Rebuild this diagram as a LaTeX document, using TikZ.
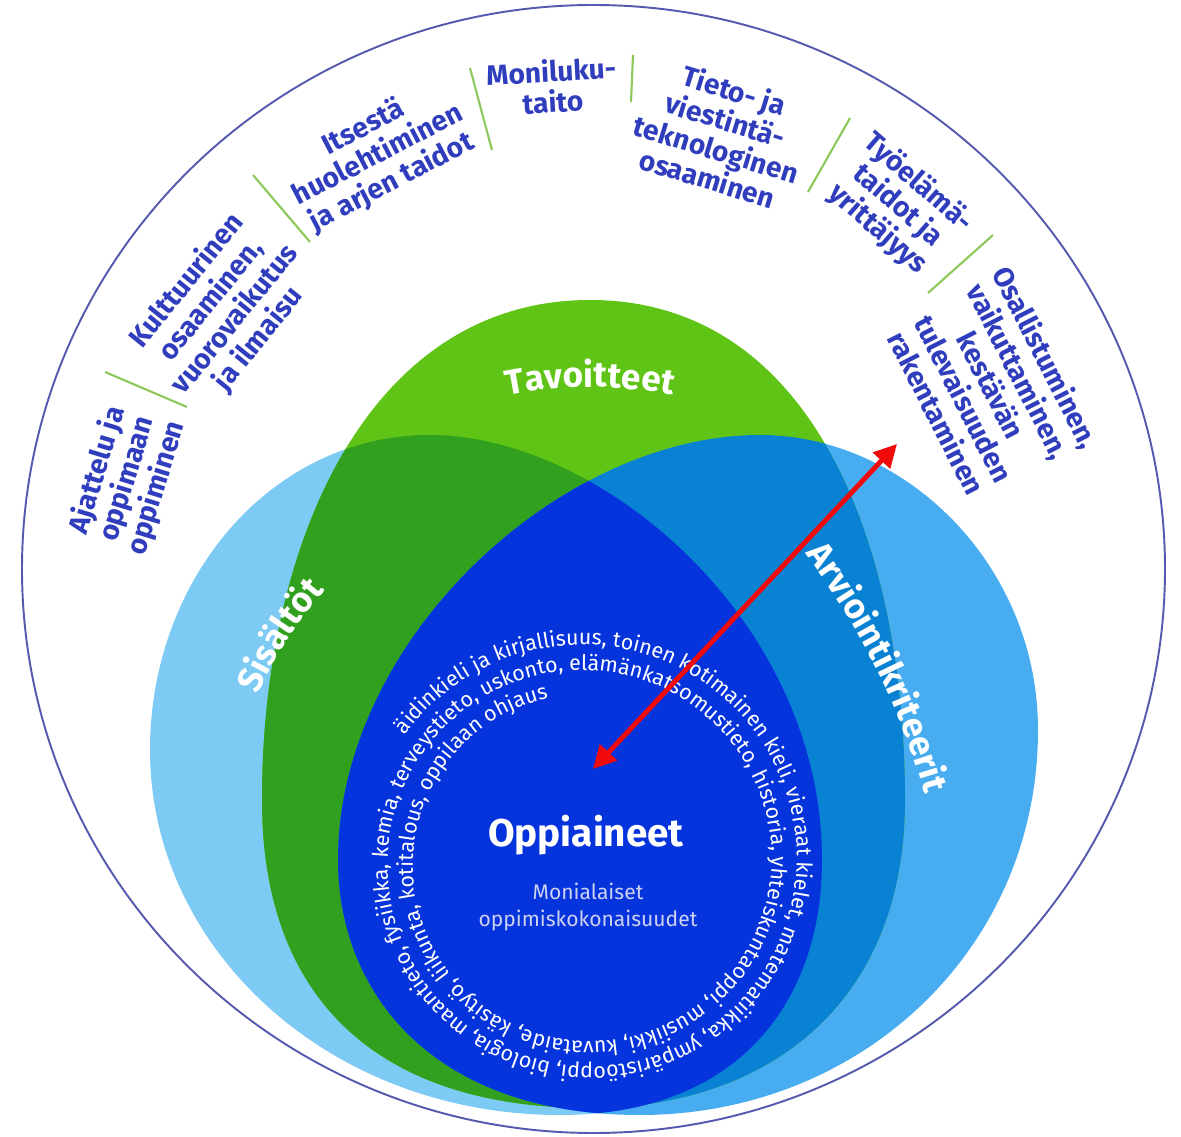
\documentclass[tikz,border=0pt]{standalone}
\usepackage{fontspec}
\setmainfont{Fira Sans}
\usepackage{tikz}
\usetikzlibrary{arrows.meta}
\usetikzlibrary{decorations.text}

\definecolor{ringblue}{RGB}{48,62,190}
\definecolor{ringline}{RGB}{85,90,175}
\definecolor{sepgreen}{RGB}{140,200,90}
\definecolor{sisblue}{RGB}{125,202,245}
\definecolor{arvblue}{RGB}{72,172,240}
\definecolor{tavgreen}{RGB}{95,196,22}
\definecolor{sisgreen}{RGB}{48,160,30}
\definecolor{tavblue}{RGB}{10,130,212}
\definecolor{oppblue}{RGB}{6,52,220}
\definecolor{monigray}{RGB}{205,210,240}
\definecolor{arrred}{RGB}{240,10,10}

\newcommand{\titlefont}{\fontsize{20}{24}\selectfont\bfseries}
\newcommand{\subjfont}{\fontsize{12.2}{14}\selectfont}

% petal outlines (Sisallot, Arviointikriteerit, Tavoitteet)
\newcommand{\petalSis}{(430,702) .. controls (600,702) and (822,517) .. (822,277) .. controls (822,137) and (740,22) .. (560,22) .. controls (330,22) and (150,187) .. (150,387) .. controls (150,557) and (270,702) .. (430,702) -- cycle}
\newcommand{\petalArv}{(760,702) .. controls (905,702) and (1038,572) .. (1038,407) .. controls (1038,187) and (860,22) .. (640,22) .. controls (430,22) and (338,147) .. (338,277) .. controls (338,497) and (560,702) .. (760,702) -- cycle}
\newcommand{\petalTav}{(590,837) .. controls (370,837) and (262,597) .. (262,337) .. controls (262,127) and (390,29) .. (590,29) .. controls (760,29) and (905,127) .. (905,337) .. controls (905,597) and (810,837) .. (590,837) -- cycle}

\begin{document}
\begin{tikzpicture}[
  x=0.02cm, y=0.02cm,
  ringlabel/.style={text=ringblue, font=\fontsize{16}{17.5}\selectfont\bfseries, align=center, inner sep=0pt},
  sepline/.style={draw=sepgreen, line width=1.2pt},
  petaltitle/.style={decorate, decoration={text along path, text align=center, text color=white, text={|\titlefont|#1}}},
  redarrow/.style={draw=arrred, line width=2.8pt, <->, >={Triangle[length=13pt,width=13pt]}}
]
\useasboundingbox (0,0) rectangle (1181,1137);
\fill[white] (0,0) rectangle (1181,1137);

% Petals
\fill[sisblue] \petalSis;
\fill[arvblue] \petalArv;
\fill[tavgreen] \petalTav;
\begin{scope}
  \clip \petalTav;
  \fill[sisgreen] \petalSis;
  \fill[tavblue] \petalArv;
\end{scope}
\begin{scope}
  \clip \petalSis;
  \fill[oppblue] \petalArv;
\end{scope}

% Outer ring
\draw[ringline, line width=1.1pt] (593.5,568) ellipse [x radius=571.5, y radius=564];

% Separators in the ring
\draw[sepline] (105,765) -- (187,730);
\draw[sepline] (253,962) -- (310,895);
\draw[sepline] (470,1069) -- (492,987);
\draw[sepline] (633,1082) -- (631,1035);
\draw[sepline] (850,1019) -- (808,945);
\draw[sepline] (993,902) -- (928,844);

% Transversal competences
\node[ringlabel, rotate=73] (ajattelu) at (127,658) {Ajattelu ja\\oppimaan\\oppiminen};
\node[ringlabel, rotate=51] (kulttuuri) at (223,827) {Kulttuurinen\\osaaminen,\\vuorovaikutus\\ja ilmaisu};
\node[ringlabel, rotate=27.5] (itsesta) at (378,982) {Itsestä\\huolehtiminen\\ja arjen taidot};
\node[ringlabel, rotate=3] (moniluku) at (552,1051) {Moniluku-\\taito};
\node[ringlabel, rotate=-17] (tvt) at (721,1003) {Tieto- ja\\viestintä-\\teknologinen\\osaaminen};
\node[ringlabel, rotate=-41] (tyoelama) at (898,931) {Työelämä-\\taidot ja\\yrittäjyys};
\node[ringlabel, rotate=-63] (osallistuminen) at (992,752) {Osallistuminen,\\vaikuttaminen,\\kestävän\\tulevaisuuden\\rakentaminen};

% Petal titles
\path[petaltitle=Tavoitteet] (481.3,735.7) arc[start angle=105, end angle=75, radius=420];
\path[petaltitle=Sisältöt] (237,391) arc[start angle=162, end angle=132, radius=450];
\path[petaltitle=Arviointikriteerit] (732,664) arc[start angle=46.5, end angle=6.5, radius=700];

% Subjects around the centre
\path[decorate, decoration={text along path, text color=white,
  text={|\subjfont|äidinkieli ja kirjallisuus, toinen kotimainen kieli, vieraat kielet, matematiikka, ympäristöoppi, biologia, maantieto, fysiikka, kemia, terveystieto, uskonto, elämänkatsomustieto, historia, yhteiskuntaoppi, musiikki, kuvataide, käsityö, liikunta, kotitalous, oppilaan ohjaus}}]
  plot[domain=145:-680, samples=550] ({586+(221-0.07*(145-(\x)))*cos(\x)}, {275+(221-0.07*(145-(\x)))*sin(\x)});

\node[font=\fontsize{22}{26}\selectfont\bfseries, text=white] (oppiaineet) at (586,302) {Oppiaineet};
\node[font=\fontsize{12}{15.3}\selectfont, text=monigray, align=center] (monialaiset) at (588,230) {Monialaiset\\oppimiskokonaisuudet};

% Arrow
\coordinate (arrtop) at (897,693);
\coordinate (arrbot) at (593,368);
\draw[redarrow] (arrbot) -- (arrtop);

\end{tikzpicture}
\end{document}
